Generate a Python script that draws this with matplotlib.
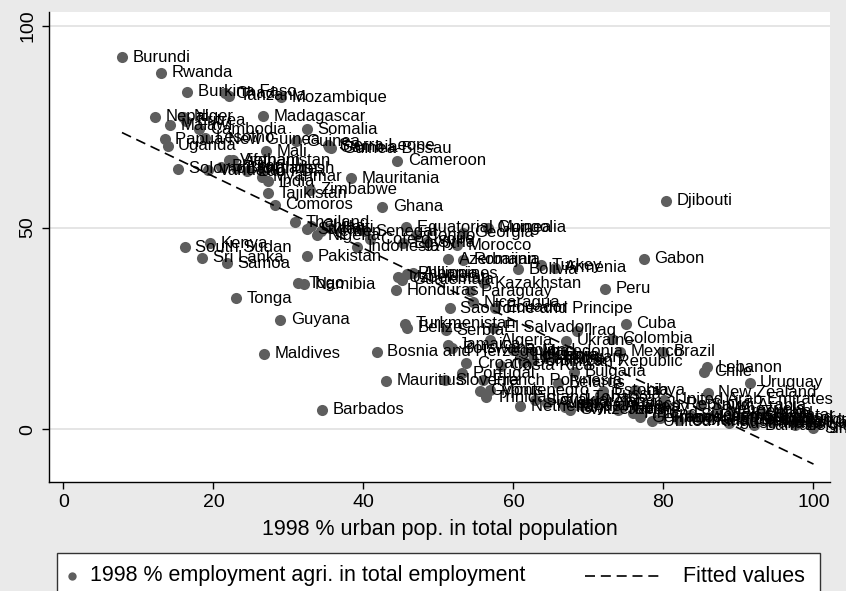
import numpy as np
import pandas as pd
import matplotlib
matplotlib.use('Agg')
import matplotlib.pyplot as plt
from matplotlib.lines import Line2D
from matplotlib.patches import Rectangle

plt.rcParams['font.family'] = ['Liberation Sans', 'DejaVu Sans']

# 1998: % urban population vs % employment in agriculture, by country
countries = [
    'Burundi', 'Rwanda', 'Burkina Faso', 'Chad', 'Tanzania', 'Mozambique',
    'Nepal', 'Niger', 'Eritrea', 'Malawi', 'Madagascar', 'Cambodia', 'Somalia',
    'Papua New Guinea', 'Uganda', 'Lesotho', 'Guinea', 'Mali', 'Sierra Leone',
    'Gambia', 'Guinea-Bissau', 'Cameroon', 'Vietnam', 'Afghanistan', 'Bangladesh',
    'Solomon Islands', 'Vanuatu', 'Bhutan', 'Lao PDR', 'Myanmar', 'Mauritania',
    'India', 'Zimbabwe', 'Tajikistan', 'Comoros', 'Ghana', 'Djibouti', 'Thailand',
    'Sudan', 'Nigeria', 'Yemen', 'China', 'Haiti', 'Senegal', "Cote d'Ivoire",
    'Indonesia', 'Equatorial Guinea', 'Georgia', 'Mongolia', 'Morocco', 'Egypt',
    'Syria', 'Congo', 'South Sudan', 'Kenya', 'Sri Lanka', 'Samoa', 'Pakistan',
    'Togo', 'Namibia', 'Tonga', 'Guyana', 'Maldives', 'Azerbaijan', 'Romania',
    'Bolivia', 'Turkey', 'Armenia', 'Gabon', 'Peru', 'Kazakhstan', 'Uzbekistan',
    'Philippines', 'Albania', 'Guatemala', 'Honduras', 'Paraguay', 'Nicaragua',
    'Ecuador', 'Sao Tome and Principe', 'Turkmenistan', 'Belize', 'Serbia',
    'El Salvador', 'Iraq', 'Cuba', 'Colombia', 'Ukraine', 'Algeria', 'Jamaica',
    'Botswana', 'Bosnia and Herzegovina', 'Poland', 'Lithuania', 'Macedonia',
    'Latvia', 'Dominican Republic', 'Panama', 'Hungary', 'Mexico', 'Brazil',
    'Croatia', 'Costa Rica', 'Lebanon', 'Chile', 'Bulgaria', 'Portugal',
    'Mauritius', 'Slovenia', 'French Polynesia', 'Belarus', 'Uruguay',
    'Montenegro', 'Trinidad and Tobago', 'Estonia', 'Libya', 'Russia',
    'New Zealand', 'United Arab Emirates', 'Barbados', 'Qatar', 'Singapore',
    'Slovakia', 'Netherlands Antilles', 'Italy', 'Spain', 'Ireland', 'Japan',
    'Finland', 'Germany', 'United Kingdom', 'France', 'Canada', 'Sweden',
    'United States', 'Denmark', 'Australia', 'Netherlands', 'Israel', 'Iceland',
    'Bahrain', 'Kuwait', 'Belgium', 'Malta', 'Luxembourg', 'Argentina', 'Norway',
    'Switzerland', 'Austria', 'Czech Republic', 'Cyprus', 'Venezuela',
    'Saudi Arabia',
]
urban = [
    7.8, 13.0, 16.5, 21.5, 22.1, 29.0,
    12.2, 15.9, 16.3, 14.2, 26.6, 18.1, 32.5,
    13.5, 13.9, 18.9, 31.0, 27.0, 35.3,
    35.4, 35.7, 44.5, 22.1, 22.6, 23.0,
    15.3, 19.3, 21.0, 24.5, 26.5, 38.3,
    27.3, 32.9, 27.3, 28.2, 42.5, 80.3, 30.9,
    32.5, 33.8, 34.3, 33.0, 35.5, 40.2, 40.9,
    39.1, 45.7, 53.3, 56.6, 52.5, 45.3,
    48.5, 47.0, 16.2, 19.5, 18.5, 21.8, 32.5,
    31.3, 32.1, 23.0, 28.9, 26.7, 51.3, 53.3,
    60.6, 63.7, 65.5, 77.4, 72.2, 56.1, 44.6,
    45.8, 46.6, 45.1, 44.3, 54.2, 54.6,
    57.5, 51.5, 45.5, 45.8, 51.0,
    57.3, 68.5, 75.0, 73.1, 67.0, 56.9, 51.3,
    51.8, 41.8, 59.9, 60.9, 62.3,
    64.2, 61.3, 62.6, 65.3, 74.2, 79.9,
    53.7, 58.3, 85.8, 85.4, 68.1, 53.1,
    43.0, 50.9, 55.9, 65.9, 91.5,
    56.9, 56.3, 71.9, 76.2, 71.5,
    85.9, 80.1, 34.5, 95.9, 100.0,
    62.9, 60.9, 66.9, 69.1, 70.8, 73.9,
    75.9, 76.9, 78.5, 79.5, 82.1, 83.5,
    84.9, 86.1, 88.8, 91.5, 93.2, 94.1,
    92.1, 97.7, 97.5, 94.5, 90.5, 89.0, 74.5,
    67.5, 64.5, 74.7, 55.5, 87.2,
    85.0,
]
agri = [
    92.2, 88.3, 83.6, 83.3, 82.6, 82.3,
    77.4, 77.4, 76.4, 75.4, 77.6, 74.4, 74.4,
    71.9, 70.2, 72.2, 71.4, 68.9, 70.4,
    69.9, 69.7, 66.5, 66.7, 66.7, 64.7,
    64.5, 64.2, 65.0, 64.0, 62.6, 62.2,
    61.5, 59.3, 58.5, 55.6, 55.1, 56.6, 51.3,
    49.6, 48.1, 49.1, 50.3, 49.9, 49.1, 47.1,
    45.2, 50.1, 48.7, 49.9, 45.6, 46.1,
    46.4, 48.1, 45.1, 46.1, 42.5, 41.2, 42.9,
    36.2, 36.0, 32.5, 27.1, 18.7, 42.1, 42.0,
    39.7, 40.7, 40.0, 42.2, 34.8, 36.2, 37.7,
    38.5, 38.7, 37.0, 34.5, 34.2, 31.5,
    30.1, 30.0, 26.1, 25.1, 24.6,
    25.1, 24.4, 26.1, 22.4, 21.9, 22.1, 20.9,
    20.1, 19.2, 19.6, 18.4, 19.2,
    18.2, 16.9, 17.2, 17.9, 19.2, 19.2,
    16.4, 15.7, 15.4, 14.2, 14.2, 13.9,
    12.0, 12.2, 12.2, 11.5, 11.5,
    9.7, 8.0, 9.5, 9.7, 8.5,
    9.0, 7.3, 4.8, 3.5, 0.2,
    7.2, 5.7, 5.5, 6.0, 6.8, 4.8,
    4.0, 3.0, 2.0, 2.8, 2.3, 3.5,
    2.8, 3.1, 1.5, 2.3, 4.0, 2.8,
    1.0, 1.5, 1.0, 1.8, 2.5, 4.5, 5.5,
    4.8, 6.5, 6.2, 9.5, 5.0,
    6.0,
]

df = pd.DataFrame({'country': countries, 'urban': urban, 'agri': agri})

# linear fit of agri on urban
slope, intercept = np.polyfit(df['urban'], df['agri'], 1)
xfit = np.array([df['urban'].min(), df['urban'].max()])
yfit = intercept + slope * xfit

fig = plt.figure(figsize=(8.46, 5.91), dpi=100, facecolor='#eaeaea')
ax = fig.add_axes([49 / 846, 1 - 482 / 591, (830 - 49) / 846, (482 - 12) / 591])
ax.set_facecolor('white')
ax.set_xlim(-1.93, 102.2)
ax.set_ylim(-13.06, 103.4)

for yv in [0, 50, 100]:
    ax.axhline(yv, color='#e0e0e0', lw=1.2, zorder=0)

ax.plot(df['urban'], df['agri'], 'o', color='#5e5e5e', ms=8, mec='none', zorder=3)
for _, r in df.iterrows():
    ax.annotate(r['country'], (r['urban'], r['agri']), xytext=(7.5, 0),
                textcoords='offset points', ha='left', va='center',
                fontsize=12, annotation_clip=False, zorder=4)

ax.plot(xfit, yfit, color='black', lw=1.2, dashes=(6, 3.5), zorder=5)

for s in ['top', 'right']:
    ax.spines[s].set_visible(False)
for s in ['left', 'bottom']:
    ax.spines[s].set_linewidth(1.0)
    ax.spines[s].set_color('black')

ax.set_xticks([0, 20, 40, 60, 80, 100])
ax.set_yticks([0, 50, 100])
ax.tick_params(direction='out', length=5, width=1, labelsize=14)
ax.tick_params(axis='y', pad=4)
for lab in ax.get_yticklabels():
    lab.set_rotation(90)
    lab.set_va('center')
ax.set_xlabel('1998 % urban pop. in total population', fontsize=15.5, labelpad=6)

# legend box along the bottom
fig.add_artist(Rectangle((57 / 846, -0.05), (820 - 57) / 846, (1 - 553 / 591) + 0.05,
                         transform=fig.transFigure, facecolor='white',
                         edgecolor='#333333', lw=1))
ly = 1 - 576 / 591
fig.add_artist(Line2D([72 / 846], [ly], marker='o', ms=6, color='#5e5e5e',
                      mec='none', transform=fig.transFigure))
fig.text(90 / 846, ly, '1998 % employment agri. in total employment',
         va='center', ha='left', fontsize=15.5)
fig.add_artist(Line2D([585 / 846, 664 / 846], [ly, ly], color='black', lw=1.2,
                      dashes=(6, 3.5), transform=fig.transFigure))
fig.text(805 / 846, ly, 'Fitted values', va='center', ha='right', fontsize=15.5)

fig.savefig('out.png', dpi=100, facecolor=fig.get_facecolor())
